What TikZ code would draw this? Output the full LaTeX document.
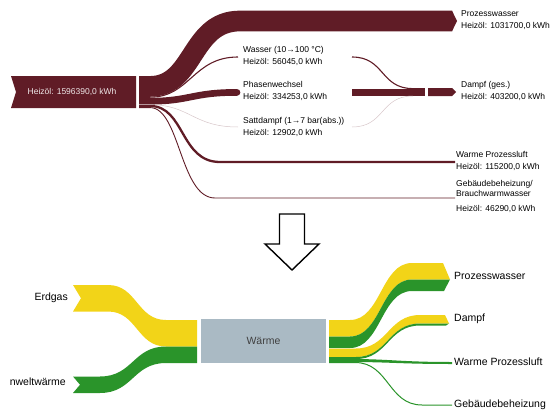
\documentclass[tikz,border=0pt]{standalone}
\usepackage{fontspec}
\setmainfont{Liberation Sans}
\definecolor{oel}{RGB}{96,28,38}
\definecolor{gas}{RGB}{242,212,24}
\definecolor{umwelt}{RGB}{42,148,42}
\definecolor{kasten}{RGB}{170,186,196}

\begin{document}
\begin{tikzpicture}[x=1pt,y=-1pt]
            \tikzstyle{lbl} = [anchor=west,align=left,inner sep=0pt,font=\fontsize{8.5}{12}\selectfont];
            \tikzstyle{big} = [inner sep=0pt,font=\fontsize{10.5}{12}\selectfont];
            \useasboundingbox (0,0) rectangle (551,412);
            % oben: Heizoel
            \fill[oel] (11,76) -- (136,76) -- (136,108) -- (11,108) -- (16,92) -- cycle;
            \node[inner sep=0pt,text=white!90!oel,font=\fontsize{8.5}{10}\selectfont] (heizoel) at (72,92) {Heizöl: 1596390,0 kWh};
            \coordinate (pw0) at (139,86.4);
            \coordinate (pw1) at (452,21);
            \coordinate (wa0) at (139,97.2);
            \coordinate (wa1) at (238,57);
            \coordinate (ph0) at (139,101.2);
            \coordinate (ph1) at (237,92.4);
            \coordinate (sd0) at (139,104.7);
            \coordinate (sd1) at (238,127);
            \coordinate (wp0) at (139,106);
            \coordinate (wp1) at (455,162);
            \coordinate (gb0) at (139,107.6);
            \coordinate (gb1) at (455,198);
            \draw[oel,line width=20.7] (pw0) -- ++(11,0) .. controls +(45,0) and +(-50,0) .. (240,21) -- (pw1);
            \fill[oel] (452,10.65) -- (457,21) -- (452,31.35) -- cycle;
            \draw[oel,line width=1.1] (wa0) -- ++(11,0) .. controls +(40,0) and +(-45,0) .. (wa1);
            \draw[oel,line width=6.7] (ph0) -- ++(11,0) .. controls +(40,0) and +(-45,0) .. (ph1);
            \fill[oel] (ph1) circle (3.35);
            \draw[oel!25,line width=0.5] (sd0) -- ++(11,0) .. controls +(40,0) and +(-45,0) .. (sd1);
            \draw[oel,line width=2.3] (wp0) -- ++(11,0) .. controls +(35,0) and +(-40,0) .. (220,162) -- (wp1);
            \draw[oel,line width=0.9] (gb0) -- ++(11,0) .. controls +(30,0) and +(-35,0) .. (215,198) -- (gb1);
            % Dampf
            \coordinate (da0) at (413,92.4);
            \draw[oel,line width=1.1] (352,57) .. controls +(33,0) and +(-33,0) .. (413,88.6);
            \draw[oel,line width=6.7] (352,92.4) -- (da0);
            \draw[oel!25,line width=0.5] (352,127) .. controls +(33,0) and +(-33,0) .. (413,96);
            \fill[oel] (413,88) rectangle (425,96.1);
            \fill[oel] (428,88) -- (452,88) -- (456,92) -- (452,96.1) -- (428,96.1) -- cycle;
            \node[lbl] (lpw) at (461,20.5) {Prozesswasser\\Heizöl: 1031700,0 kWh};
            \node[lbl] (lwa) at (243,55.5) {Wasser (10→100 °C)\\Heizöl: 56045,0 kWh};
            \node[lbl] (lph) at (243,91) {Phasenwechsel\\Heizöl: 334253,0 kWh};
            \node[lbl] (lsd) at (243,126.5) {Sattdampf (1→7 bar(abs.))\\Heizöl: 12902,0 kWh};
            \node[lbl] (lda) at (461,91) {Dampf (ges.)\\Heizöl: 403200,0 kWh};
            \node[lbl] (lwp) at (456,160.5) {Warme Prozessluft\\Heizöl: 115200,0 kWh};
            \node[lbl,font=\fontsize{8.5}{10.5}\selectfont] (lgb) at (456,196) {Gebäudebeheizung/\\Brauchwarmwasser\\[4pt]Heizöl: 46290,0 kWh};
            % Pfeil
            \draw[line width=1.4,line join=miter] (279.5,214) -- (304.5,214) -- (304.5,244) -- (319,244) -- (292,270) -- (265,244) -- (279.5,244) -- cycle;
            % unten: Erdgas und Umweltwaerme
            \fill[gas] (73,285) -- (108,285) .. controls +(29,0) and +(-29,0) .. (166,320) -- (197,320) -- (197,346.5) -- (166,346.5) .. controls +(-29,0) and +(29,0) .. (108,311.5) -- (73,311.5) -- (81,298.25) -- cycle;
            \fill[umwelt] (73,376.5) -- (100,376.5) .. controls +(33,0) and +(-33,0) .. (166,346.5) -- (197,346.5) -- (197,363) -- (166,363) .. controls +(-33,0) and +(33,0) .. (100,393) -- (73,393) -- (80,384.75) -- cycle;
            \node[big,anchor=east] (erdgas) at (68,298) {Erdgas};
            \node[big,anchor=east] (umw) at (66,382) {nweltwärme};
            \node[fill=kasten,minimum width=125pt,minimum height=44pt,inner sep=0pt,text=black!75,font=\fontsize{10.5}{12}\selectfont] (waerme) at (263.5,341) {Wärme};
            % Ausgaenge
            \fill[gas] (329,320) -- (350,320) .. controls +(31,0) and +(-31,0) .. (412,263) -- (443,263) -- (450,279.5) -- (412,279.5) .. controls +(-31,0) and +(31,0) .. (350,336.5) -- (329,336.5) -- cycle;
            \fill[umwelt] (329,336.5) -- (350,336.5) .. controls +(31,0) and +(-31,0) .. (412,279.5) -- (450,279.5) -- (444,291) -- (412,291) .. controls +(-31,0) and +(31,0) .. (350,348) -- (329,348) -- cycle;
            \fill[gas] (329,348.5) -- (356,348.5) .. controls +(32,0) and +(-32,0) .. (420,315) -- (445,315) -- (449,323.5) -- (420,323.5) .. controls +(-32,0) and +(32,0) .. (356,357) -- (329,357) -- cycle;
            \fill[umwelt] (329,357) -- (356,357) .. controls +(32,0) and +(-32,0) .. (420,323.5) -- (449,323.5) -- (446,325.5) -- (420,325.5) .. controls +(-32,0) and +(32,0) .. (356,359) -- (329,359) -- cycle;
            \fill[umwelt] (329,359) -- (350,359) .. controls +(40,0) and +(-52,0) .. (452,362) -- (452,364) .. controls +(-52,0) and +(40,0) .. (350,362) -- (329,362) -- cycle;
            \draw[umwelt,line width=1] (329,362.5) -- (355,362.5) .. controls +(34,0) and +(-34,0) .. (422,405) -- (452,405);
            \node[big,anchor=west] (opw) at (454,276) {Prozesswasser};
            \node[big,anchor=west] (oda) at (454,319) {Dampf};
            \node[big,anchor=west] (owp) at (454,362) {Warme Prozessluft};
            \node[big,anchor=west] (ogb) at (454,405) {Gebäudebeheizung};
        \end{tikzpicture}
\end{document}
